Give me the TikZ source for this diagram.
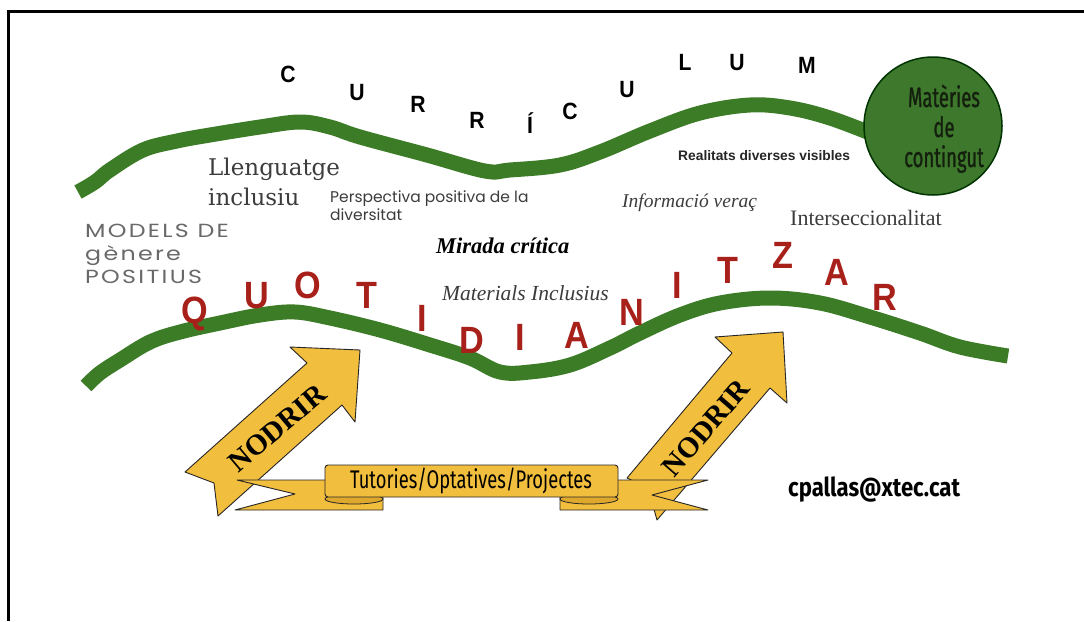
\documentclass[tikz,border=0pt]{standalone}
\usepackage{fontspec}
\setmainfont{Liberation Serif}
\newfontfamily\lsans[FakeStretch=0.9]{Liberation Sans}
\newfontfamily\rsans{Liberation Sans}
\newfontfamily\dvserif{DejaVu Serif}
\newfontfamily\pop{Poppins}
\newfontfamily\popw[LetterSpace=12,FakeStretch=1.25]{Poppins}
\newfontfamily\cond[FakeStretch=0.72]{Fira Sans}
\newfontfamily\condc[FakeStretch=0.66,FakeBold=1]{Fira Sans}
\newfontfamily\condb[FakeStretch=0.85]{Fira Sans}
\definecolor{lgreen}{RGB}{60,124,38}
\definecolor{cgreen}{RGB}{62,120,44}
\definecolor{qred}{RGB}{168,32,26}
\definecolor{ayellow}{RGB}{242,190,62}
\definecolor{fyellow}{RGB}{222,168,44}
\definecolor{tgray}{RGB}{60,60,60}
\definecolor{mgray}{RGB}{105,105,105}
\definecolor{ctext}{RGB}{20,32,14}
\newcommand{\fsz}[1]{\fontsize{#1}{#1}\selectfont}
\begin{document}
\begin{tikzpicture}[x=1pt,y=-1pt,
  wave/.style={draw=lgreen,line width=15pt,line join=round},
  cletter/.style={anchor=base,inner sep=0pt,font=\lsans\bfseries\fsz{23.5}},
  qletter/.style={anchor=base,inner sep=0pt,text=qred,font=\lsans\bfseries\fsz{38}},
  bigarrow/.style={fill=ayellow,draw=black!85,line width=0.9pt,line join=round},
  ribbon/.style={fill=ayellow,draw=black!85,line width=0.9pt,line join=round},
  fold/.style={fill=fyellow,draw=black!85,line width=0.8pt},
  lbl/.style={anchor=base west,inner sep=0pt},
  ctx/.style={inner sep=0pt,anchor=base,text=ctext,font=\condc\fsz{28}},
  nod/.style={inner sep=0pt,font=\bfseries\fsz{29}}
]
\useasboundingbox (0,0) rectangle (1084,621);
\fill[white] (0,0) rectangle (1084,621);
% frame
\draw[line width=3pt] (8,621) -- (8,11) -- (1084,11);

% upper wave
\draw[wave] plot[smooth,tension=0.6] coordinates {(78,192) (95,182) (110,170) (143,150) (177,141) (210,135) (260,127) (300,122) (330,127) (360,137) (427,155) (485,171) (510,170) (560,165) (600,152) (650,131) (700,113) (750,105) (790,108) (830,118) (875,135)};
% lower wave
\draw[wave] plot[smooth,tension=0.6] coordinates {(86,386) (100,373) (120,360) (150,342) (180,332) (220,323) (260,315) (295,312) (330,318) (380,330) (430,345) (470,358) (500,372) (530,372) (570,365) (610,348) (640,333) (680,315) (720,303) (770,298) (820,303) (870,317) (920,333) (960,347) (1008,356)};

% circle
\node[circle,fill=cgreen,draw=black!80!green,line width=1.5pt,minimum size=138pt,inner sep=0pt] (mat) at (933,126) {};
\node[ctx] (m1) at (944,107) {Matèries};
\node[ctx] (m2) at (944,137) {de};
\node[ctx] (m3) at (944,167) {contingut};

% CURRICULUM
\node[cletter] (c1) at (288,82) {C};
\node[cletter] (c2) at (357,100) {U};
\node[cletter] (c3) at (418,112) {R};
\node[cletter] (c4) at (477,128) {R};
\node[cletter] (c5) at (530,133) {Í};
\node[cletter] (c6) at (570,119) {C};
\node[cletter] (c7) at (627,97) {U};
\node[cletter] (c8) at (685,70) {L};
\node[cletter] (c9) at (737,70) {U};
\node[cletter] (c10) at (807,73) {M};

% QUOTIDIANITZAR
\node[qletter] (q1) at (195,323) {Q};
\node[qletter] (q2) at (257,308) {U};
\node[qletter] (q3) at (308,298) {O};
\node[qletter] (q4) at (367,308) {T};
\node[qletter] (q5) at (422,331) {I};
\node[qletter] (q6) at (472,353) {D};
\node[qletter] (q7) at (520,350) {I};
\node[qletter] (q8) at (577,348) {A};
\node[qletter] (q9) at (632,325) {N};
\node[qletter] (q10) at (677,298) {I};
\node[qletter] (q11) at (728,283) {T};
\node[qletter] (q12) at (783,268) {Z};
\node[qletter] (q13) at (837,285) {A};
\node[qletter] (q14) at (885,310) {R};

% labels
\node[lbl,font=\dvserif\fsz{23},text=tgray] (ll1) at (208,175) {Llenguatge};
\node[lbl,font=\dvserif\fsz{23},text=tgray] (ll2) at (208,205) {inclusiu};
\node[lbl,font=\pop\fsz{15.5},text=tgray] (pp1) at (330,202) {Perspectiva positiva de la};
\node[lbl,font=\pop\fsz{15.5},text=tgray] (pp2) at (330,220) {diversitat};
\node[lbl,font=\popw\fsz{19},text=mgray] (md1) at (85,237) {MODELS DE};
\node[lbl,font=\popw\fsz{19},text=mgray] (md2) at (85,260) {gènere};
\node[lbl,font=\popw\fsz{19},text=mgray] (md3) at (85,283) {POSITIUS};
\node[lbl,font=\bfseries\itshape\fsz{22.5},text=black] (mc) at (436,253) {Mirada crítica};
\node[lbl,font=\itshape\fsz{21.5},text=tgray] (mi) at (442,300) {Materials Inclusius};
\node[lbl,font=\rsans\bfseries\fsz{13.8},text=black!85] (rd) at (678,160) {Realitats diverses visibles};
\node[lbl,font=\itshape\fsz{19.5},text=tgray] (iv) at (622,207) {Informació veraç};
\node[lbl,font=\fsz{22},text=tgray] (is) at (790,225) {Interseccionalitat};

% arrows
\draw[bigarrow] (185,472) -- (307,363) -- (290,347) -- (360,350) -- (355,422) -- (342,405) -- (218,516) -- (214,483) -- cycle;
\draw[bigarrow] (627,478) -- (732,353) -- (715,337) -- (783,332) -- (787,403) -- (770,388) -- (657,520) -- (648,488) -- cycle;
\node[nod,rotate=40] (n1) at (277,428) {NODRIR};
\node[nod,rotate=49] (n2) at (706,428) {NODRIR};

% ribbon
\draw[ribbon] (237,480) -- (383,480) -- (383,510) -- (235,510) -- (295,494) -- cycle;
\draw[ribbon] (560,480) -- (708,480) -- (652,495) -- (708,510) -- (560,510) -- cycle;
\draw[fold] (354,499) ellipse (29 and 5);
\draw[fold] (589,499) ellipse (29 and 5);
\draw[ribbon,rounded corners=3pt] (325,465) rectangle (618,497);
\node[inner sep=0pt,anchor=base,font=\cond\fsz{25.5}] (rt) at (471,488) {Tutories/Optatives/Projectes};

% email
\node[lbl,font=\condb\bfseries\fsz{26}] (em) at (788,496) {cpallas@xtec.cat};
\end{tikzpicture}
\end{document}
